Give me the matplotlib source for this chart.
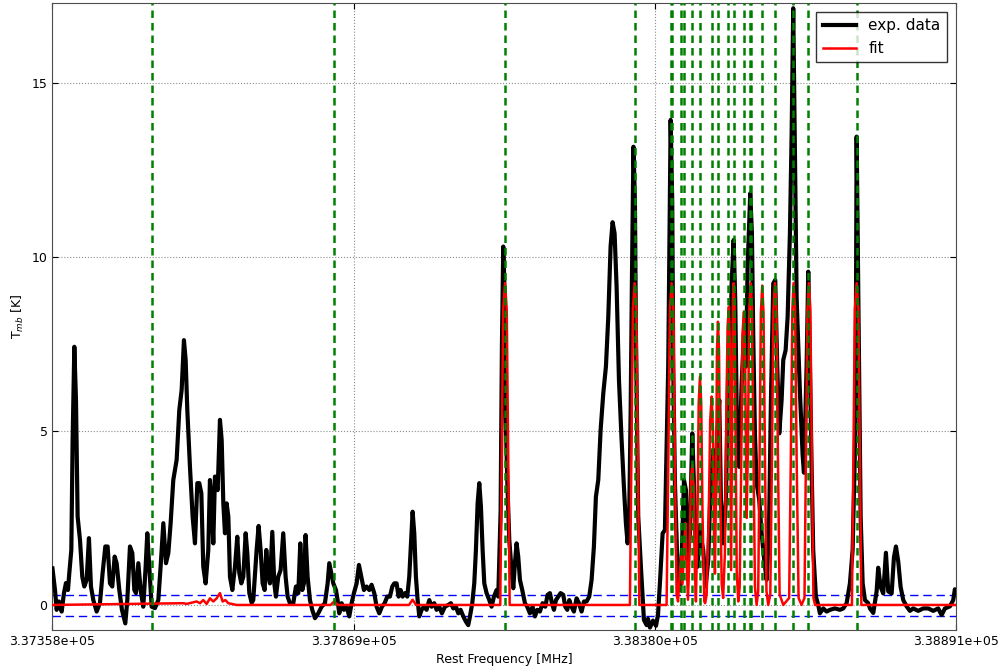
import numpy as np
import matplotlib
matplotlib.use("Agg")
import matplotlib.pyplot as plt

# band start [MHz]; all frequencies below are offsets from it
f0 = 337358.0
f_ticks = [337358, 337869, 338380, 338891]

exp_df = [0, 4.3, 7.1, 11.0, 15.6, 19.5, 22.9, 26.3, 28.6, 32.0, 34.2, 37.1, 39.9, 42.7, 46.7,
          50.6, 54.0, 58.0, 61.9, 65.3, 69.3, 75.0, 80.6, 85.1, 89.7, 93.6, 97.6, 101.5, 105.5,
          108.9, 113.4, 117.9, 123.6, 127.0, 131.5, 135.5, 138.9, 141.7, 145.7, 149.6, 154.1,
          158.1, 160.9, 164.3, 168.3, 173.9, 179.6, 183.5, 188.1, 192.6, 196.6, 200.5, 205.0,
          210.7, 215.2, 219.2, 223.1, 226.0, 228.8, 233.3, 237.8, 241.8, 245.8, 249.1, 252.6,
          255.9, 259.9, 264.4, 267.2, 270.1, 272.9, 275.7, 280.3, 284.2, 287.1, 289.9, 292.7,
          295.5, 298.4, 301.2, 305.2, 309.7, 313.6, 317.0, 320.4, 323.8, 327.8, 330.6, 334.0,
          338.0,
          340.7, 346.4, 349.8, 353.2, 356.6, 360.0, 362.8, 365.6, 369.0, 373.0, 376.4, 379.2,
          383.1, 387.1, 391.6, 395.6, 399.0, 402.9, 408.6, 413.1, 417.1, 420.5, 423.9, 426.7,
          429.5, 432.9, 436.9, 440.8, 445.4, 451.0, 456.7, 462.3, 466.9, 469.7, 473.1, 476.5,
          481.0, 483.8, 486.6, 490.6, 494.6, 499.1, 503.6, 507.6, 511.5, 516.1, 520.0, 524.0,
          528.5, 533.0, 537.6, 541.5, 546.0, 550.0, 554.5, 559.0, 563.6, 568.1, 572.6, 576.6,
          580.0, 583.9, 587.3, 590.7, 594.1, 598.1, 602.0, 605.4, 608.3, 611.1, 613.9, 616.7,
          619.6, 622.4, 626.4, 630.3, 634.8, 639.4, 643.3, 647.8, 651.8, 656.3, 660.8, 665.9,
          671.6, 676.1, 680.1, 684.6, 688.6, 692.5, 697.1, 701.6, 705.5, 708.4, 712.3, 715.7,
          718.5, 721.4, 724.2, 727.0, 729.9, 732.7, 736.6, 741.2, 745.1, 749.1, 753.6, 756.4,
          760.4, 762.6, 764.9, 766.6, 768.9, 771.7, 775.1, 779.0, 781.9, 784.7, 787.5, 790.3,
          793.2, 797.1, 801.7, 805.6, 810.1, 814.7, 818.6, 822.6, 827.1, 831.6, 836.2, 840.1,
          844.1, 847.5, 850.9, 854.3, 858.2, 862.2, 866.7, 870.1, 873.5, 876.9, 880.8, 884.8,
          889.3, 893.3, 897.8, 901.8, 906.3, 910.8, 914.8, 918.7, 922.1, 926.1, 930.1, 934.6,
          939.1, 943.1, 947.0, 950.4, 953.8, 957.2, 961.2, 965.7, 969.6, 973.0, 975.9, 978.7,
          981.0, 983.2, 985.8,
          988.3, 990.0, 993.9, 998.5, 1003.6, 1008.2, 1010.4, 1013.8, 1018.9, 1024.0, 1027.4,
          1030.7, 1035.3, 1039.2, 1044.8, 1048.9, 1051.6, 1053.3, 1056.2, 1060.1, 1064.7,
          1068.1, 1071.5, 1074.9, 1077.7, 1081.6, 1085.6, 1088.4, 1091.8, 1094.7, 1098.6,
          1101.5, 1104.2, 1108.3, 1112.7, 1116.8, 1121.2, 1124.1, 1128.0, 1131.4, 1134.2,
          1138.1, 1142.7, 1146.6, 1149.5, 1152.4, 1155.8, 1158.5, 1161.9, 1165.3, 1169.4,
          1173.3, 1176.7, 1179.5, 1184.0, 1186.8, 1189.0, 1191.9, 1194.8, 1199.2, 1203.3,
          1207.7, 1211.8, 1215.7, 1219.1, 1223.0, 1226.4, 1229.8, 1233.2, 1237.2, 1240.0,
          1244.0, 1247.4, 1251.3, 1254.2, 1256.9, 1262.7, 1268.3, 1272.9, 1275.1, 1279.6,
          1282.4, 1285.3, 1288.1, 1290.8, 1295.4, 1299.3, 1302.2, 1307.8, 1313.6, 1319.2,
          1327.7, 1336.2, 1341.8, 1347.5, 1353.1, 1357.7, 1361.6, 1363.3, 1364.5, 1368.9,
          1371.3, 1374.7, 1378.6, 1384.2, 1387.1, 1392.7, 1398.4, 1401.1, 1405.2, 1409.6,
          1414.2, 1418.1, 1423.9, 1427.8, 1431.2, 1435.1, 1439.1, 1443.6, 1449.3, 1454.9,
          1460.5, 1469.0, 1477.5, 1486.0, 1494.4, 1502.9, 1508.7, 1514.3, 1522.8, 1528.4,
          1531.2, 1533.0]
exp_T = [1.05, 0.43, -0.14, 0.1, -0.19, 0.34, 0.63, 0.43, 0.92, 1.58, 4.74, 7.42, 5.89, 2.54, 1.87,
         0.81, 0.53, 0.72, 1.92, 0.53, 0.14, -0.19, 0.06, 0.92, 1.68, 1.68, 0.62, 0.53, 1.39,
         1.2, 0.43, -0.14, -0.53, 0.14, 1.68, 1.49, 0.43, 0.34, 1.2, 0.43, -0.05,
         1.1, 2.06, 1.1, -0.05, -0.09, 0.14, 1.1, 2.35, 1.2, 1.49, 2.35, 3.59,
         4.17, 5.6, 6.18, 7.61, 7.04, 5.6, 3.97, 2.54, 1.77, 3.5, 3.5, 3.21,
         1.1, 0.62, 1.58, 3.59, 3.02, 1.77, 3.69, 3.3, 5.32, 4.74, 2.92, 2.06,
         2.92, 2.54, 0.81, 0.43, 1.1, 1.96, 0.92, 0.62, 0.81, 2.06, 1.49, 0.34,
         0.06,
         0.14, 1.58, 2.27, 1.58, 0.62, 0.43, 1.58, 0.91, 0.62, 2.1, 0.62, 0.24,
         0.81, 1.0, 2.06, 0.81, 0.24, 0.05, 0.05, 0.53, 0.34, 1.77, 0.43, 0.62,
         2.01, 0.81, 0.14, -0.14, -0.38, -0.24, -0.05, 0.05, 0.62, 1.2, 0.91, 0.62,
         0.43, 0.14, -0.24, 0.05, -0.14, -0.05, -0.33, 0.05, 0.34, 0.62, 1.15, 0.81,
         0.43, 0.53, 0.43, 0.58, 0.34, -0.05, -0.24, -0.05, 0.05, 0.24, 0.24, 0.53,
         0.62, 0.62, 0.24, 0.43, 0.24, 0.34, 0.24, 0.81, 1.77, 2.68, 2.06, 0.81,
         0.14, -0.33, -0.14, -0.05, -0.14, 0.14, -0.05, 0.05, -0.14, -0.05, -0.24, -0.05,
         0.0, 0.05, -0.1, -0.05, -0.24, -0.14, -0.33, -0.48, -0.58, -0.33, 0.05, 0.62,
         1.58, 2.92, 3.5, 2.83, 1.58, 0.62, 0.34, 0.14, -0.05, 0.24, 0.43, 0.24,
         2.68, 7.42, 10.3, 9.33, 5.5, 3.59, 1.87, 1.0, 0.48, 1.2, 1.77, 1.39,
         0.72, 0.43, 0.05, -0.05, -0.24, -0.05, -0.33, -0.14, -0.19, 0.05, -0.05, 0.29,
         0.34, 0.05, -0.14, 0.14, 0.24, 0.34, 0.29, -0.05, -0.14, 0.14, -0.05, -0.19,
         0.19, 0.05, -0.19, 0.1, 0.1, 0.24, 0.72, 1.68, 3.11, 3.59, 5.03, 6.08,
         6.85, 8.28, 10.3, 11.0, 10.68, 9.15, 6.47, 4.74, 3.4, 2.35, 1.77, 2.68,
         5.5, 9.33, 13.17,
         11.6, 7.8, 2.55, 1.08, -0.43, -0.58, -0.4, -0.65, -0.45, -0.6, -0.3,
         0.62, 2.06, 2.15, 6.85, 13.94, 11.6, 6.85, 3.5, 1.29, 0.43,
         1.58, 3.59, 3.3, 1.29, 2.06, 4.93, 3.5, 1.58, 1.1, 2.3,
         1.82, 1.58, 0.53, 1.29, 3.5, 4.45, 3.02, 4.93, 5.89, 3.02,
         1.77, 3.02, 6.85, 6.85, 9.24, 10.49, 8.76, 4.45, 3.97, 6.37,
         7.8, 6.85, 9.72, 11.83, 10.68, 7.8, 4.93, 3.5, 3.02, 2.06,
         1.29, 0.72, 2.06, 5.89, 9.24, 9.34, 6.85, 4.93, 5.89, 7.04,
         7.32, 8.28, 10.68, 13.55, 17.15, 8.8, 6.1, 4.3, 3.8, 6.85,
         9.58, 6.85, 3.97, 1.58, 0.24, 0.0, -0.24, -0.1, -0.19, -0.14,
         -0.1, -0.14, -0.1, 0.05, 0.62, 1.58, 4.45, 8.28, 13.46, 6.37,
         2.54, 0.62, 0.14, 0.05, -0.1, -0.23, 0.39, 1.07, 0.52, 0.33,
         1.5, 0.39, 0.33, 1.37, 1.68, 1.25, 0.52, 0.14, -0.04, -0.17,
         -0.1, -0.17, -0.1, -0.1, -0.17, -0.1, -0.29, -0.1, -0.04, 0.14,
         0.45, 0.33]

# model fit
fit_df = [0, 222.0, 227.7, 244.6, 250.3, 255.9, 261.6, 267.2, 272.9, 278.6, 284.2, 288.7,
          293.3, 298.4, 304.0, 312.5, 472.0, 478.0, 484.0, 605.0, 611.0, 617.0,
          759.8, 762.3, 764.8, 767.8, 770.8, 773.3, 775.8,
          979.8, 982.3, 984.8, 987.8, 990.8, 993.3, 995.8,
          1042.0, 1045.0, 1047.6, 1050.6, 1053.6, 1056.0, 1059.0, 1061.5,
          1064.0, 1066.5, 1069.0, 1071.5, 1073.8, 1076.0, 1078.3,
          1081.0, 1083.3, 1085.6, 1088.0, 1090.0, 1091.8,
          1094.5, 1096.5, 1098.6, 1100.8, 1103.0, 1106.0, 1107.5,
          1110.0, 1113.5, 1116.0, 1118.5, 1120.8, 1122.5, 1124.1,
          1126.0, 1127.5, 1129.2, 1131.0, 1133.0, 1135.5, 1138.0,
          1141.0, 1143.5, 1145.5, 1147.7, 1149.5, 1151.5,
          1153.0, 1154.5, 1155.8, 1157.3, 1159.0, 1161.0, 1163.6,
          1166.0, 1168.5, 1170.8, 1173.3, 1175.5, 1177.9,
          1180.0, 1182.2, 1184.7, 1187.0, 1189.5, 1192.0, 1194.8,
          1197.5, 1199.8, 1202.0, 1204.3, 1206.5, 1209.0, 1211.5, 1214.5,
          1218.0, 1220.8, 1223.3, 1225.9, 1228.5, 1231.0, 1233.8, 1240.0,
          1250.0, 1252.8, 1255.5, 1257.5, 1260.1, 1262.7, 1266.0, 1271.0,
          1276.0, 1278.5, 1281.0, 1283.5, 1286.0, 1288.5, 1291.2, 1294.0,
          1356.5, 1359.0, 1361.5, 1364.5, 1367.5, 1370.0, 1372.5, 1533.0]
fit_T = [0, 0.05, 0.03, 0.1, 0.05, 0.14, 0.03, 0.19, 0.1, 0.19, 0.34, 0.1,
         0.14, 0.05, 0.03, 0.0, 0.0, 0.1, 0.0, 0.0, 0.15, 0.0,
         0, 4.2, 8.5, 9.25, 8.5, 4.2, 0,
         0, 4.2, 8.5, 9.25, 8.5, 4.2, 0,
         0, 4.2, 8.5, 9.25, 8.5, 4.2, 0.3, 0.1,
         0.8, 1.4, 0.6, 1.6, 2.35, 1.3, 0.15,
         1.5, 3.6, 4.02, 3.4, 1.0, 0.1,
         2.5, 5.8, 6.56, 5.8, 2.6, 0.1, 0.05,
         0.3, 2.5, 5.3, 5.99, 5.0, 2.0, 0.9,
         3.5, 7.3, 8.14, 7.3, 3.5, 0.6, 0.2,
         1.5, 5.5, 8.0, 8.57, 7.5, 1.0,
         5.0, 8.7, 9.25, 8.7, 5.0, 1.0, 0.1,
         0.5, 3.8, 7.8, 8.43, 6.8, 2.5,
         4.5, 8.5, 9.25, 8.5, 4.2, 0.5, 0,
         0.4, 4.2, 8.4, 9.18, 8.4, 4.2, 0.4, 0,
         0.3, 4.2, 8.5, 9.25, 8.5, 4.2, 0.3, 0,
         0.2, 4.2, 8.5, 9.25, 8.5, 4.2, 0.2, 0,
         0.2, 4.2, 8.5, 9.25, 8.5, 4.2, 0.2, 0,
         0, 4.2, 8.5, 9.25, 8.5, 4.2, 0, 0]

# catalogue line positions (green markers)
line_df = [168.8, 478.1, 767.8, 987.8, 1048.9, 1051.1, 1066.4, 1072.0, 1085.5, 1099.1,
           1119.5, 1129.2, 1146.6, 1155.8, 1173.8, 1183.4, 1186.0, 1204.3, 1225.9,
           1256.9, 1282.4, 1364.5]

# noise level
rms = [0.29, -0.32]

freq = f0 + np.array(exp_df)
fit_f = f0 + np.array(fit_df)
line_f = f0 + np.array(line_df)

fig = plt.figure(figsize=(10.07, 6.72), dpi=100)
ax = fig.add_axes([0.0521, 0.0625, 0.8972, 0.933])

for r in rms:
    ax.axhline(r, color='b', lw=1, linestyle=(0, (6, 3.5)), zorder=2)
ax.plot(freq, exp_T, color='k', lw=3, label='exp. data', zorder=3)
ax.plot(fit_f, fit_T, color='r', lw=1.8, label='fit', zorder=4)
for lf in line_f:
    ax.axvline(lf, color='g', lw=1.8, linestyle=(0, (3.0, 2.0)), zorder=5)

ax.set_xlim(337358, 338891)
ax.set_ylim(-0.72, 17.3)
ax.set_xticks(f_ticks)
ax.set_xticklabels(['%.5e' % t for t in f_ticks])
ax.set_yticks([0, 5, 10, 15])
ax.tick_params(direction='in', labelsize=9, top=True, right=True, length=4)
ax.grid(True, color='0.55', linestyle=':', lw=0.8)
ax.set_xlabel('Rest Frequency [MHz]', fontsize=9)
ax.set_ylabel(r'T$_{mb}$ [K]', fontsize=9)
for s in ax.spines.values():
    s.set_color('0.3')

leg = ax.legend(loc='upper right', fontsize=11, fancybox=False, borderaxespad=0.6,
                handlelength=2.2)
leg.get_frame().set_edgecolor('k')
leg.get_frame().set_linewidth(1)

fig.savefig('out.png', dpi=100)
